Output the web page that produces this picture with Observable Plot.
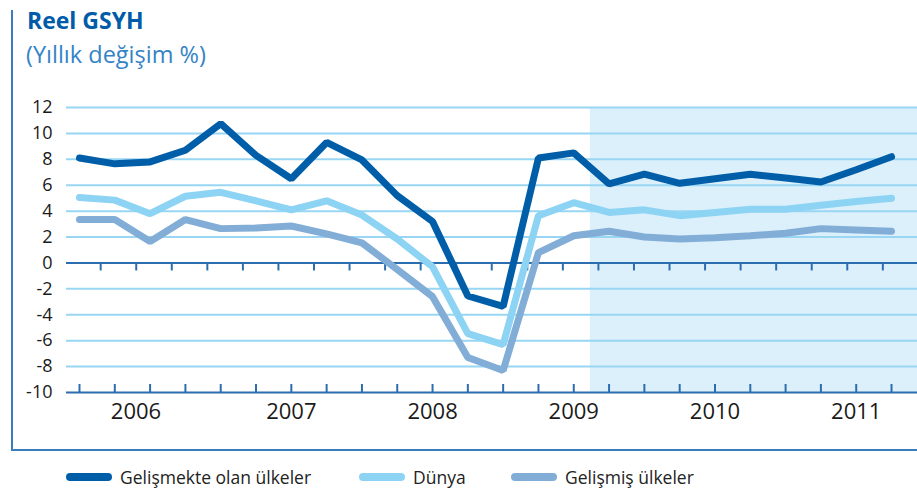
<!DOCTYPE html>
<html>
<head>
<meta charset="utf-8">
<script src="https://cdn.jsdelivr.net/npm/d3@7"></script>
<script src="https://cdn.jsdelivr.net/npm/@observablehq/plot@0.6"></script>
<style>
  html, body { margin: 0; padding: 0; background: #ffffff; }
  #wrap { position: relative; width: 917px; height: 490px; overflow: hidden; font-family: "Open Sans", sans-serif; }
  #frame { position: absolute; left: 11px; top: 10px; width: 920px; height: 441px;
           border-left: 2px solid #3b7bbf; border-bottom: 2px solid #3b7bbf; box-sizing: border-box; }
  #title { position: absolute; left: 27px; top: 9px; font-size: 23px; line-height: 23px; font-weight: 700; color: #005ca9; white-space: nowrap; }
  #subtitle { position: absolute; left: 26px; top: 43px; font-size: 23.5px; line-height: 23px; font-weight: 400; color: #3483c6; white-space: nowrap; }
  #chart { position: absolute; left: 0; top: 0; }
  #legend { position: absolute; left: 0; top: 466px; width: 917px; height: 22px; font-size: 17.5px; line-height: 22px; color: #222; }
  .item { position: absolute; top: 0; white-space: nowrap; }
  .sw { position: absolute; top: 7px; width: 46px; height: 8px; border-radius: 4px; }
  .lbl { position: absolute; top: 0; }
</style>
</head>
<body>
<div id="wrap">
  <div id="frame"></div>
  <div id="title">Reel GSYH</div>
  <div id="subtitle">(Yıllık değişim %)</div>
  <div id="chart"></div>
  <div id="legend"></div>
</div>
<script>
// ---- data ----
const quarters = ["2006Ç1","2006Ç2","2006Ç3","2006Ç4","2007Ç1","2007Ç2","2007Ç3","2007Ç4",
                  "2008Ç1","2008Ç2","2008Ç3","2008Ç4","2009Ç1","2009Ç2","2009Ç3","2009Ç4",
                  "2010Ç1","2010Ç2","2010Ç3","2010Ç4","2011Ç1","2011Ç2","2011Ç3","2011Ç4"];
const gelismekte = [8.1, 7.65, 7.8, 8.7, 10.75, 8.3, 6.5, 9.3, 7.95, 5.2, 3.2, -2.55,
                    -3.35, 8.1, 8.5, 6.1, 6.85, 6.15, 6.5, 6.85, 6.55, 6.25, 7.2, 8.2];
const dunya      = [5.05, 4.85, 3.8, 5.15, 5.45, 4.8, 4.1, 4.8, 3.7, 1.85, -0.3, -5.45,
                    -6.3, 3.65, 4.65, 3.9, 4.1, 3.65, 3.9, 4.15, 4.15, 4.45, 4.75, 5.0];
const gelismis   = [3.35, 3.35, 1.65, 3.35, 2.65, 2.7, 2.85, 2.25, 1.55, -0.5, -2.6, -7.3,
                    -8.3, 0.8, 2.1, 2.45, 2.0, 1.85, 1.95, 2.1, 2.3, 2.65, 2.55, 2.45];
const seriesNames  = ["Gelişmekte olan ülkeler", "Dünya", "Gelişmiş ülkeler"];
const seriesColors = ["#005ea9", "#8dd3f4", "#82add6"];
const yTicks = [-10, -8, -6, -4, -2, 0, 2, 4, 6, 8, 10, 12];
const yearLabels = ["2006", "2007", "2008", "2009", "2010", "2011"];
const yearLabelPos = [1.6, 6, 10, 14, 18, 22];   // quarter index where each year label sits
const forecastStart = 14.47;                       // shaded (forecast) period starts here
const zeroTickStart = 0.6, zeroTickStep = 1.007, zeroTickCount = 23;

// ---- layout / style ----
const W = 917, H = 420, mTop = 107, mBottom = 28, mLeft = 66, mRight = 0;
const xDomain = [-0.368, 23.736];
const pxPerUnit = (H - mTop - mBottom) / (yTicks[yTicks.length - 1] - yTicks[0]);
const tickLen = 8 / pxPerUnit;
const axisColor = "#2c6db0", gridColor = "#98d6f3", shadeColor = "#dcf0fb";

const qIdx = quarters.map((q, i) => i);
const zeroTicks = d3.range(zeroTickCount).map(k => zeroTickStart + k * zeroTickStep);
const yMin = yTicks[0], yMax = yTicks[yTicks.length - 1];

const chart = Plot.plot({
  width: W, height: H,
  marginTop: mTop, marginBottom: mBottom, marginLeft: mLeft, marginRight: mRight,
  style: { fontFamily: "Open Sans, sans-serif", background: "transparent", overflow: "visible" },
  x: { type: "linear", domain: xDomain, axis: null },
  y: { domain: [yMin, yMax], axis: null },
  marks: [
    Plot.rect([{ x1: forecastStart, x2: xDomain[1], y1: yMin, y2: yMax }],
      { x1: "x1", x2: "x2", y1: "y1", y2: "y2", fill: shadeColor }),
    Plot.ruleY(yTicks.filter(v => v !== 0 && v !== yMin), { stroke: gridColor, strokeWidth: 2 }),
    Plot.ruleY([0, yMin], { stroke: axisColor, strokeWidth: 2 }),
    Plot.ruleX(qIdx, { x: d => d, y1: yMin, y2: yMin + tickLen, stroke: axisColor, strokeWidth: 2 }),
    Plot.ruleX(zeroTicks, { x: d => d, y1: 0, y2: -tickLen, stroke: axisColor, strokeWidth: 2 }),
    Plot.axisY(yTicks, { anchor: "left", tickSize: 0, tickPadding: 14, fontSize: 18,
      tickFormat: d => String(d), fill: "#1a1a1a" }),
    Plot.text(yearLabels, { x: (d, i) => yearLabelPos[i], y: yMin, dy: 19, text: d => d,
      fontSize: 22, fill: "#1a1a1a" }),
    Plot.lineY(gelismis, { x: (d, i) => i, y: d => d, stroke: seriesColors[2], strokeWidth: 7,
      strokeLinecap: "round", strokeLinejoin: "miter" }),
    Plot.lineY(dunya, { x: (d, i) => i, y: d => d, stroke: seriesColors[1], strokeWidth: 7,
      strokeLinecap: "round", strokeLinejoin: "miter" }),
    Plot.lineY(gelismekte, { x: (d, i) => i, y: d => d, stroke: seriesColors[0], strokeWidth: 7,
      strokeLinecap: "round", strokeLinejoin: "miter" })
  ]
});
document.getElementById("chart").appendChild(chart);

// ---- legend ----
const legendX = [66, 359, 511];
const legend = document.getElementById("legend");
seriesNames.forEach((name, i) => {
  const item = document.createElement("div");
  item.className = "item";
  item.style.left = legendX[i] + "px";
  const sw = document.createElement("span");
  sw.className = "sw";
  sw.style.left = "0px";
  sw.style.background = seriesColors[i];
  const lbl = document.createElement("span");
  lbl.className = "lbl";
  lbl.style.left = "54px";
  lbl.textContent = name;
  item.appendChild(sw);
  item.appendChild(lbl);
  legend.appendChild(item);
});
</script>
</body>
</html>
